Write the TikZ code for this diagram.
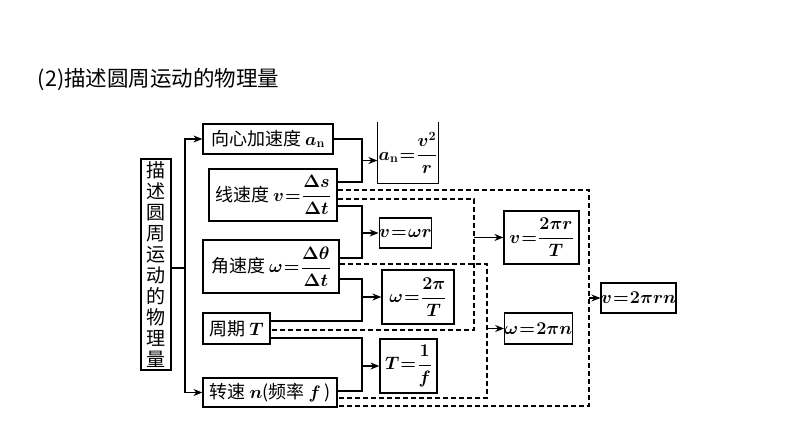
\RequirePackage{fix-cm}
\documentclass[tikz,border=0pt]{standalone}
\usepackage{amsmath}
\usepackage[no-math]{fontspec}
\setmainfont{Noto Sans CJK SC}
\usetikzlibrary{arrows.meta,calc}
\newcommand\eqs{\mkern1mu{=}\mkern1mu}

\begin{document}
\begin{tikzpicture}[x=1pt, y=-1pt, line width=1.2pt, >={Stealth[length=9pt,width=7pt]},
    box/.style = {draw, inner sep=0pt, font=\fontsize{18}{21}\selectfont\boldmath},
    dashline/.style = {dash pattern=on 5pt off 3pt}]
	\useasboundingbox (0,0) rectangle (794,447);
	\node[anchor=west, font=\fontsize{21.5}{24}\selectfont] (title) at (34,80) {(2)描述圆周运动的物理量};
	% quantities
	\node[box, minimum width=30, minimum height=211, align=center, font=\fontsize{19}{21}\selectfont] (qty) at (156,264.5)
		{描\\述\\圆\\周\\运\\动\\的\\物\\理\\量};
	\node[box, minimum width=130, minimum height=30] (acc) at (268,139) {向心加速度 $a_{\mathrm{n}}$};
	\node[box, minimum width=128, minimum height=52] (lin) at (273,195) {线速度 $v\eqs\dfrac{\Delta s}{\Delta t}$};
	\node[box, minimum width=136, minimum height=53] (ang) at (271,266.5) {角速度 $\omega\eqs\dfrac{\Delta\theta}{\Delta t}$};
	\node[box, minimum width=67, minimum height=31] (per) at (236.5,328.5) {周期 $T$};
	\node[box, minimum width=134, minimum height=29] (rot) at (270,392.5) {转速 $n$(频率 $f\,$)};
	% formulas
	\node[box, draw=none, minimum width=60, minimum height=60] (fan) at (408,153) {$a_{\mathrm{n}}\eqs\dfrac{v^{2}}{r}$};
	\draw (fan.north west) -- (fan.south west) -- (fan.south east) -- (fan.north east);
	\node[box, minimum width=49, minimum height=30] (fvw) at (405.5,233) {$v\eqs\omega r$};
	\node[box, minimum width=72, minimum height=54] (fwt) at (418,297) {$\omega\eqs\dfrac{2\pi}{T}$};
	\node[box, minimum width=57, minimum height=54] (ftf) at (408.5,366) {$T\eqs\dfrac{1}{f}$};
	\node[box, minimum width=75, minimum height=53] (fvt) at (541.5,237.5) {$v\eqs\dfrac{2\pi r}{T}$};
	\node[box, minimum width=67, minimum height=31] (fwn) at (538.5,328.5) {$\omega\eqs 2\pi n$};
	\node[box, minimum width=69, minimum height=30] (fvn) at (638.5,298) {$v\eqs 2\pi rn$};

	% trunk
	\coordinate (tx) at (185,0);
	\coordinate (q1) at ([yshift=-3.5pt]qty.east);
	\draw (q1) -- (tx |- q1);
	\draw[<->] (acc.west) -| (tx |- rot.west) -- (rot.west);

	% solid brackets
	\coordinate (bx) at (362,0);
	\coordinate (l1) at ([yshift=13pt]lin.east);
	\coordinate (l2) at ([yshift=-11pt]lin.east);
	\coordinate (a1) at ([yshift=8.5pt]ang.east);
	\coordinate (a2) at ([yshift=-12.5pt]ang.east);
	\coordinate (p1) at ([yshift=7.5pt]per.east);
	\coordinate (p2) at ([yshift=-9.5pt]per.east);
	\coordinate (r1) at ([yshift=1.5pt]rot.east);
	\draw (acc.east) -| (bx |- l1) -- (l1);
	\draw (l2) -| (bx |- a1) -- (a1);
	\draw (a2) -| (bx |- p1) -- (p1);
	\draw (p2) -| (bx |- r1) -- (r1);
	\coordinate (m1) at ($(bx |- acc.east)!0.5!(bx |- l1)$);
	\draw[->] (m1) -- (fan.west |- m1);
	\draw[->] (bx |- fvw.west) -- (fvw.west);
	\draw[->] (bx |- fwt.west) -- (fwt.west);
	\draw[->] (bx |- ftf.west) -- (ftf.west);

	% dashed links
	\coordinate (dx1) at (589,0);
	\coordinate (dx2) at (474,0);
	\coordinate (dx3) at (487,0);
	\coordinate (d1) at ([yshift=5pt]lin.east);
	\coordinate (d2) at ([yshift=-4pt]lin.east);
	\coordinate (d3) at ([yshift=2.5pt]ang.east);
	\coordinate (e1) at ([yshift=-13.5pt]rot.east);
	\coordinate (e2) at ([yshift=-1.5pt]per.east);
	\coordinate (e3) at ([yshift=-5.5pt]rot.east);
	\draw[dashline] (d1) -| (dx1 |- e1) -- (e1);
	\draw[dashline] (d2) -| (dx2 |- e2) -- (e2);
	\draw[dashline] (d3) -| (dx3 |- e3) -- (e3);
	\draw[->] (dx1 |- fvn.west) -- (fvn.west);
	\draw[->] (dx2 |- fvt.west) -- (fvt.west);
	\draw[->] (dx3 |- fwn.west) -- (fwn.west);
\end{tikzpicture}
\end{document}
